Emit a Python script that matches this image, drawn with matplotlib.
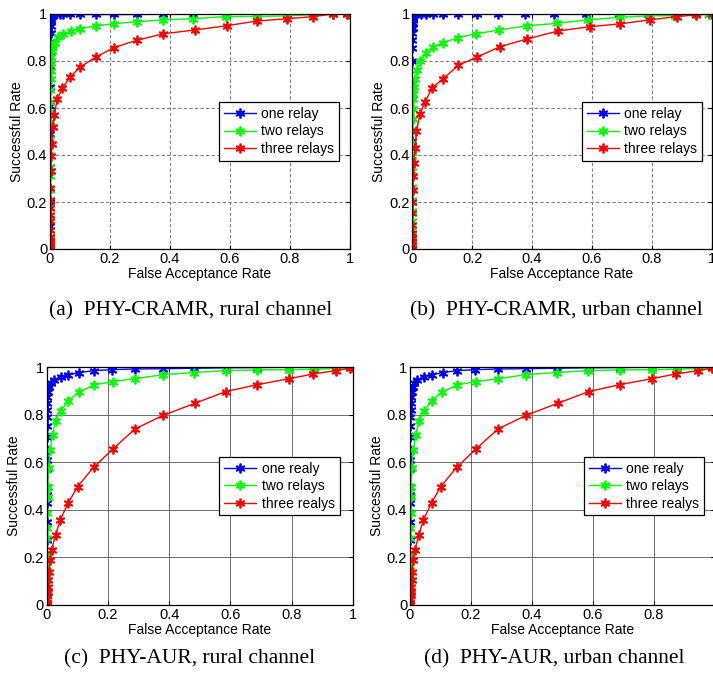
import numpy as np
import matplotlib
matplotlib.use("Agg")
import matplotlib.pyplot as plt

plt.rcParams['font.family'] = ['Liberation Sans', 'DejaVu Sans']

# ---- data (FAR, success rate) ----
# (a) PHY-CRAMR rural
blue_a_x = [0, 0, 0, 0, 0, 0, 0, 0.0005, 0.0005, 0.001, 0.001, 0.0015, 0.002, 0.002, 0.003, 0.004, 0.005, 0.007,
            0.01, 0.015, 0.02, 0.033, 0.044, 0.067, 0.101, 0.152, 0.213, 0.289, 0.378, 0.478, 0.585, 0.689, 0.789,
            0.877, 0.943, 0.989, 1.0]
blue_a_y = [0, 0.02, 0.05, 0.1, 0.2, 0.35, 0.49, 0.61, 0.69, 0.78, 0.84, 0.88, 0.92, 0.95, 0.97, 0.98, 0.99, 0.995,
            0.997, 0.998, 0.998, 0.998, 0.998, 0.998, 0.998, 0.998, 0.998, 0.998, 0.999, 0.999, 0.999, 0.999, 1, 1, 1, 1, 1]
green_a_x = [0, 0, 0, 0, 0, 0, 0, 0, 0, 0.0005, 0.0005, 0.0005, 0.001, 0.001, 0.0015, 0.002, 0.002, 0.003, 0.004,
             0.005, 0.006, 0.008, 0.011, 0.017, 0.028, 0.044, 0.069, 0.101, 0.152, 0.213, 0.289, 0.378, 0.478, 0.585,
             0.689, 0.789, 0.877, 0.943, 0.989, 1.0]
green_a_y = [0, 0.02, 0.05, 0.08, 0.13, 0.18, 0.25, 0.31, 0.35, 0.40, 0.47, 0.54, 0.585, 0.627, 0.677, 0.722, 0.759,
             0.793, 0.819, 0.844, 0.855, 0.863, 0.868, 0.875, 0.90, 0.914, 0.926, 0.938, 0.949, 0.959, 0.967, 0.975,
             0.980, 0.989, 0.990, 0.992, 0.997, 1.0, 1.0, 1.0]
red_a_x = [0, 0, 0, 0, 0, 0, 0, 0.0005, 0.0005, 0.001, 0.001, 0.002, 0.0035, 0.0056, 0.009, 0.014, 0.024, 0.041,
           0.067, 0.101, 0.152, 0.213, 0.289, 0.378, 0.483, 0.589, 0.689, 0.791, 0.878, 0.944, 0.99, 1.0]
red_a_y = [0, 0.011, 0.025, 0.04, 0.051, 0.082, 0.118, 0.146, 0.174, 0.21, 0.26, 0.33, 0.397, 0.448, 0.521, 0.569,
           0.637, 0.683, 0.732, 0.775, 0.816, 0.857, 0.888, 0.916, 0.932, 0.950, 0.970, 0.980, 0.989, 1.0, 1.0, 1.0]

# (b) PHY-CRAMR urban
blue_b_x = [0, 0, 0, 0, 0, 0, 0, 0, 0.0005, 0.0005, 0.001, 0.001, 0.0015, 0.002, 0.003, 0.004, 0.006, 0.009, 0.014,
            0.028, 0.045, 0.07, 0.104, 0.154, 0.215, 0.287, 0.376, 0.474, 0.58, 0.691, 0.788, 0.878, 0.947, 0.99, 1.0]
blue_b_y = [0, 0.02, 0.06, 0.2, 0.46, 0.70, 0.80, 0.854, 0.89, 0.92, 0.94, 0.96, 0.975, 0.985, 0.99, 0.995, 0.997,
            0.998, 0.998, 0.998, 0.998, 0.998, 0.998, 0.999, 0.999, 0.999, 0.999, 0.999, 0.999, 1, 1, 1, 1, 1, 1]
green_b_x = [0, 0, 0, 0, 0, 0, 0, 0, 0, 0, 0, 0.0005, 0.0005, 0.001, 0.001, 0.0015, 0.002, 0.003, 0.0056, 0.009,
             0.016, 0.027, 0.045, 0.069, 0.104, 0.151, 0.213, 0.290, 0.382, 0.482, 0.586, 0.694, 0.789, 0.878, 0.944,
             0.99, 1.0]
green_b_y = [0, 0.02, 0.04, 0.06, 0.08, 0.12, 0.16, 0.21, 0.262, 0.33, 0.397, 0.45, 0.507, 0.552, 0.596, 0.639, 0.66,
             0.675, 0.691, 0.724, 0.762, 0.800, 0.833, 0.860, 0.878, 0.899, 0.916, 0.932, 0.950, 0.960, 0.975, 0.986,
             0.992, 0.993, 1.0, 1.0, 1.0]
red_b_x = [0, 0, 0, 0, 0, 0, 0, 0, 0.0005, 0.001, 0.003, 0.0056, 0.009, 0.014, 0.026, 0.042, 0.067, 0.101, 0.154,
           0.215, 0.293, 0.384, 0.488, 0.594, 0.694, 0.794, 0.883, 0.946, 1.0]
red_b_y = [0, 0.004, 0.018, 0.032, 0.046, 0.068, 0.103, 0.153, 0.2, 0.252, 0.309, 0.365, 0.429, 0.503, 0.575, 0.625,
           0.687, 0.722, 0.782, 0.816, 0.861, 0.894, 0.928, 0.946, 0.958, 0.975, 0.989, 0.996, 1.0]

# (c)/(d) PHY-AUR (both channels give the same curves)
blue_c_x = [0, 0, 0, 0.0005, 0.0005, 0.0005, 0.001, 0.001, 0.001, 0.001, 0.001, 0.001, 0.001, 0.001, 0.001, 0.002,
            0.002, 0.002, 0.005, 0.009, 0.014, 0.024, 0.046, 0.071, 0.107, 0.155, 0.212, 0.289, 0.379, 0.481, 0.585,
            0.688, 0.793, 0.874, 0.944, 0.99, 1.0]
blue_c_y = [0, 0.02, 0.05, 0.12, 0.274, 0.351, 0.428, 0.463, 0.498, 0.571, 0.61, 0.652, 0.705, 0.753, 0.792, 0.82,
            0.849, 0.877, 0.897, 0.918, 0.932, 0.947, 0.961, 0.968, 0.978, 0.986, 0.99, 0.993, 0.994, 0.996, 0.998,
            0.999, 1.0, 1.0, 1.0, 1.0, 1.0]
green_c_x = [0, 0, 0, 0, 0.0005, 0.0005, 0.001, 0.001, 0.001, 0.001, 0.002, 0.003, 0.004, 0.006, 0.011, 0.019, 0.029,
             0.046, 0.071, 0.106, 0.155, 0.216, 0.289, 0.379, 0.481, 0.585, 0.688, 0.793, 0.874, 0.944, 0.99, 1.0]
green_c_y = [0, 0.02, 0.04, 0.06, 0.09, 0.12, 0.164, 0.21, 0.281, 0.323, 0.386, 0.456, 0.498, 0.578, 0.652, 0.716,
             0.776, 0.816, 0.86, 0.896, 0.926, 0.94, 0.952, 0.969, 0.978, 0.986, 0.989, 0.99, 0.992, 0.995, 0.998, 1.0]
red_c_x = [0, 0.0005, 0.001, 0.002, 0.003, 0.004, 0.005, 0.0076, 0.010, 0.016, 0.029, 0.044, 0.071, 0.101, 0.153,
           0.216, 0.289, 0.381, 0.485, 0.586, 0.688, 0.793, 0.871, 0.944, 0.99, 1.0]
red_c_y = [0, 0.01, 0.025, 0.042, 0.056, 0.077, 0.105, 0.14, 0.189, 0.231, 0.295, 0.358, 0.431, 0.498, 0.579, 0.656,
           0.741, 0.798, 0.849, 0.898, 0.927, 0.952, 0.972, 0.986, 0.996, 1.0]

labels_cramr = ['one relay', 'two relays', 'three relays']
labels_aur = ['one realy', 'two relays', 'three realys']
captions = ['(a)  PHY-CRAMR, rural channel', '(b)  PHY-CRAMR, urban channel',
            '(c)  PHY-AUR, rural channel', '(d)  PHY-AUR, urban channel']
ticks = [0, 0.2, 0.4, 0.6, 0.8, 1]
tick_labels = ['0', '0.2', '0.4', '0.6', '0.8', '1']

W, H = 713, 677
fig = plt.figure(figsize=(W / 100, H / 100), dpi=100)

# axes rectangles in pixels: left, top, width, height
boxes = [(50, 14, 300, 235), (412.3, 14, 299.4, 235), (46.7, 367.3, 306, 237.7), (410, 367.3, 305, 237.7)]
panels = [
    [(blue_a_x, blue_a_y), (green_a_x, green_a_y), (red_a_x, red_a_y)],
    [(blue_b_x, blue_b_y), (green_b_x, green_b_y), (red_b_x, red_b_y)],
    [(blue_c_x, blue_c_y), (green_c_x, green_c_y), (red_c_x, red_c_y)],
    [(blue_c_x, blue_c_y), (green_c_x, green_c_y), (red_c_x, red_c_y)],
]
legend_x = [0.563, 0.566, 0.564, 0.57]
cap_pos = [(191, 311), (556, 311), (190, 659), (554, 659)]
colors = ['#0000ff', '#00ff00', '#ff0000']
star = (6, 2, 0)

for i in range(4):
    l, t, w, h = boxes[i]
    ax = fig.add_axes([l / W, 1 - (t + h) / H, w / W, h / H])
    labs = labels_cramr if i < 2 else labels_aur
    for (xs, ys), c, lab in zip(panels[i], colors, labs):
        ax.plot(xs, ys, color=c, lw=1, marker=star, ms=7, mew=1.3, label=lab)
    ax.set_xlim(0, 1)
    ax.set_ylim(0, 1)
    ax.set_xticks(ticks)
    # the "1" of panel (d) falls off the right edge of the page
    ax.set_xticklabels(tick_labels if i != 3 else tick_labels[:-1] + [''])
    ax.set_yticks(ticks)
    ax.set_yticklabels(tick_labels)
    ax.tick_params(direction='in', length=3, pad=2, labelsize=10.5, top=True, right=True)
    if i < 2:
        ax.grid(True, color='#808080', ls=(0, (3, 2)), lw=0.8)
    else:
        ax.grid(True, color='#555555', ls='-', lw=0.6)
    for s in ax.spines.values():
        s.set_linewidth(0.9)
    ax.set_xlabel('False Acceptance Rate', fontsize=10, labelpad=1)
    ax.set_ylabel('Successful Rate', fontsize=10, labelpad=2)
    leg = ax.legend(loc='center left', bbox_to_anchor=(legend_x[i], 0.5), fontsize=10, numpoints=1,
                    fancybox=False, edgecolor='black', framealpha=1, borderpad=0.35, handlelength=2.3,
                    handletextpad=0.4, labelspacing=0.25, borderaxespad=0)
    leg.get_frame().set_linewidth(0.9)
    cx, cy = cap_pos[i]
    fig.text(cx / W, 1 - cy / H, captions[i], ha='center', va='center', fontsize=15.5,
             family=['Liberation Serif', 'DejaVu Serif'])

fig.savefig('out.png', dpi=100)
